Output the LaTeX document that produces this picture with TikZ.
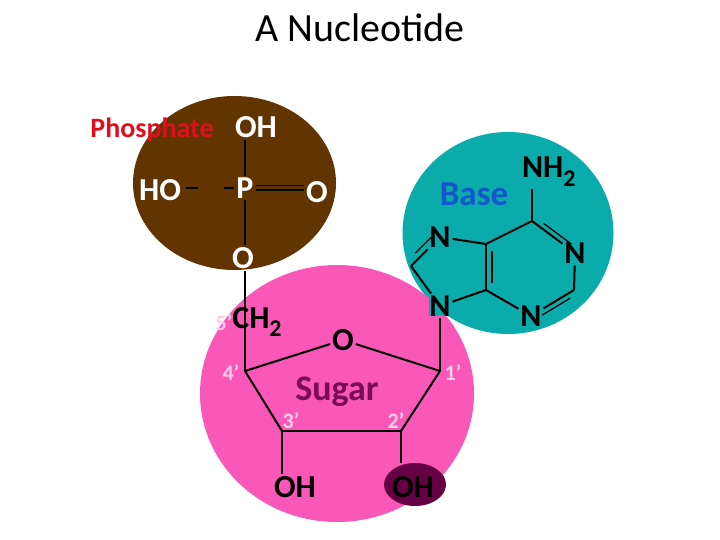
\documentclass[tikz,border=0pt]{standalone}
\usepackage{fontspec}
\setmainfont{Carlito}
\usepackage{tikz}
\usetikzlibrary{calc,shapes.geometric}
\definecolor{brownblob}{RGB}{98,52,2}
\definecolor{tealblob}{RGB}{11,171,171}
\definecolor{pinkblob}{RGB}{250,88,184}
\definecolor{plum}{RGB}{102,0,68}
\definecolor{sugartext}{RGB}{122,10,92}
\definecolor{basetext}{RGB}{18,88,204}
\definecolor{paleprime}{RGB}{250,205,232}
\definecolor{phostext}{RGB}{225,15,30}

\newcommand{\subtwo}{\raisebox{-.28em}{\fontsize{24}{24}\selectfont 2}}

\tikzset{
  blob/.style={ellipse, inner sep=0pt},
  atom/.style={inner sep=0pt, outer sep=2pt, font=\bfseries\fontsize{32}{32}\selectfont, text=black},
  whiteatom/.style={atom, text=white},
  prime/.style={inner sep=0pt, font=\bfseries\fontsize{22}{22}\selectfont, text=paleprime},
  bond/.style={line width=2pt},
  innerbond/.style={line width=1.3pt}
}

\begin{document}
\begin{tikzpicture}[x=1pt, y=-1pt]
    \useasboundingbox (0,0) rectangle (720,540);
    % blobs
    \node[blob, fill=tealblob, minimum width=211pt, minimum height=202pt] (baseblob) at (508,233) {};
    \node[blob, fill=brownblob, minimum width=203pt, minimum height=174pt] (phosblob) at (234.5,183) {};
    \node[blob, fill=pinkblob, minimum width=274pt, minimum height=257pt] (sugarblob) at (337,393.5) {};
    \node[blob, fill=plum, minimum width=62pt, minimum height=43pt] (ohblob) at (415,484.5) {};

    \node[inner sep=0pt, font=\fontsize{40}{40}\selectfont] (title) at (360,28) {A Nucleotide};
    \node[inner sep=0pt, font=\bfseries\fontsize{28}{28}\selectfont, text=phostext] (phoslabel) at (152,130) {Phosphate};
    \node[inner sep=0pt, font=\bfseries\fontsize{35}{35}\selectfont, text=basetext] (baselabel) at (474,194) {Base};
    \node[inner sep=0pt, font=\bfseries\fontsize{36}{36}\selectfont, text=sugartext] (sugarlabel) at (337,392) {Sugar};

    % phosphate
    \node[whiteatom] (ohtop) at (256,127) {OH};
    \node[whiteatom] (ho) at (160,190) {HO};
    \node[whiteatom] (p) at (245,188) {P};
    \node[whiteatom] (oside) at (317,192) {O};
    \node[whiteatom] (olow) at (243,258) {O};
    \coordinate (hostub) at (198,188);
    \coordinate (pstub) at (224,188);
    \draw[bond] (ohtop.south -| p) -- (p.north);
    \draw[bond] (ho.east) ++(3,-2) -- (hostub);
    \draw[bond] (pstub) -- (p.west);
    \draw[double=brownblob, double distance=3pt, line width=1.3pt] (p.east) -- (p.east -| oside.west);
    \draw[bond] (p) -- (olow.north -| p);

    % sugar
    \node[atom] (ch2) at (257,322) {CH\subtwo};
    \node[prime] (five) at (224,323) {5’};
    \node[atom] (oring) at (343,340) {O};
    \node[atom] (ohleft) at (295,487) {OH};
    \node[atom] (ohright) at (413,487) {OH};
    \coordinate (cfour) at (245,371);
    \coordinate (cone) at (440,371);
    \coordinate (ctwo) at (401,431);
    \coordinate (cthree) at (282,431);
    \node[prime] (four) at (231,372) {4’};
    \node[prime] (one) at (453,372) {1’};
    \node[prime] (two) at (396,420) {2’};
    \node[prime] (three) at (291,421) {3’};
    \draw[bond] (olow.south -| p) -- (cfour);
    \draw[bond] (cfour) -- (oring);
    \draw[bond] (oring) -- (cone);
    \draw[bond] (cone) -- (ctwo);
    \draw[bond] (ctwo) -- (cthree);
    \draw[bond] (cthree) -- (cfour);
    \draw[bond] (cthree) -- (ohleft.north -| cthree);
    \draw[bond] (ctwo) -- (ohblob.north -| ctwo);

    % base
    \node[atom, fill=tealblob] (nnine) at (440,306) {N};
    \node[atom] (nseven) at (440,237) {N};
    \node[atom] (none) at (575,253) {N};
    \node[atom] (nthree) at (531,316) {N};
    \node[atom, anchor=base west] (nh) at (520,178) {NH\subtwo};
    \coordinate (ceight) at (411,266);
    \coordinate (cfourb) at (486,290);
    \coordinate (cfive) at (486,244);
    \coordinate (csix) at (532,221);
    \coordinate (ctwob) at (574,290);
    \draw[bond] (nnine) -- (cone);
    \draw[bond] (nnine) -- (ceight);
    \draw[bond] (ceight) -- (nseven);
    \draw[innerbond] ($(ceight)!.3!(nseven)!6pt!90:(nseven)$) -- ($(ceight)!.85!(nseven)!6pt!90:(nseven)$);
    \draw[bond] (nseven) -- (cfive);
    \draw[bond] (cfive) -- (cfourb);
    \draw[innerbond] ($(cfive)!.15!(cfourb)!6pt!90:(cfourb)$) -- ($(cfive)!.85!(cfourb)!6pt!90:(cfourb)$);
    \draw[bond] (cfourb) -- (nnine);
    \draw[bond] (cfive) -- (csix);
    \draw[bond] (csix) -- (nh.south -| csix);
    \draw[bond] (csix) -- (none);
    \draw[innerbond] ($(csix)!.2!(none)!5pt!90:(none)$) -- ($(csix)!.85!(none)!5pt!90:(none)$);
    \draw[bond] (none) -- (ctwob);
    \draw[bond] (ctwob) -- (nthree);
    \draw[innerbond] ($(ctwob)!.15!(nthree)!5pt!90:(nthree)$) -- ($(ctwob)!.8!(nthree)!5pt!90:(nthree)$);
    \draw[bond] (nthree) -- (cfourb);
\end{tikzpicture}
\end{document}
